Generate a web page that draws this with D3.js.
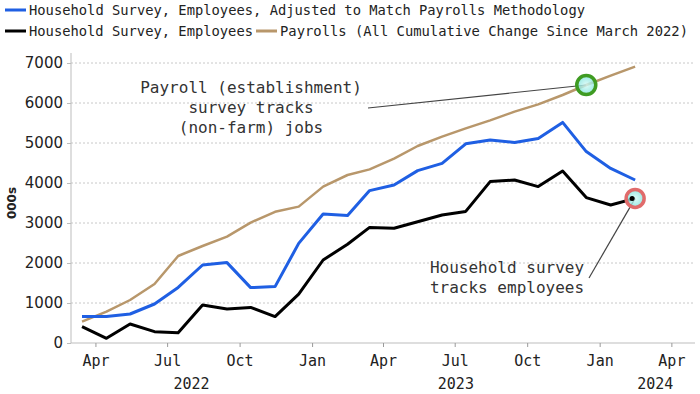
<!DOCTYPE html>
<html>
<head>
<meta charset="utf-8">
<script src="https://cdn.jsdelivr.net/npm/d3@7"></script>
<style>
  body { margin: 0; background: #fff; }
  svg { display: block; }
</style>
</head>
<body>
<script>
// monthly points, Mar 2022 .. Feb 2024 (000s, cumulative change)
const months = d3.range(24).map((i) => new Date(2022, 2 + i, 15));
const householdAdj = [660, 660, 725, 975, 1390, 1950, 2010, 1385, 1410, 2490, 3225, 3185,
  3810, 3950, 4310, 4490, 4980, 5075, 5015, 5115, 5515, 4785, 4365, 4075];
const household = [410, 117, 475, 283, 258, 950, 850, 890, 660, 1220, 2075, 2470,
  2890, 2870, 3030, 3200, 3290, 4035, 4075, 3910, 4300, 3635, 3450, 3615];
const payrolls = [535, 785, 1075, 1475, 2175, 2425, 2660, 3010, 3280, 3410, 3910, 4200,
  4340, 4610, 4925, 5160, 5365, 5565, 5785, 5965, 6200, 6450, 6685, 6910];
const yTicks = [0, 1000, 2000, 3000, 4000, 5000, 6000, 7000];
const monthLabels = ['Jan', 'Apr', 'Jul', 'Oct'];
const years = [2022, 2023, 2024];

const series = [
  { key: 'adj', name: 'Household Survey, Employees, Adjusted to Match Payrolls Methodology', values: householdAdj, color: '#1f5fe3', width: 3 },
  { key: 'hh', name: 'Household Survey, Employees', values: household, color: '#000000', width: 3 },
  { key: 'pay', name: 'Payrolls (All Cumulative Change Since March 2022)', values: payrolls, color: '#b8976b', width: 2.5 },
];

const width = 700;
const height = 394;
const plot = { left: 71, right: 695, top: 63, bottom: 343 };
const mono = "'DejaVu Sans Mono', 'Liberation Mono', monospace";

const x = d3.scaleTime()
  .domain([new Date(2022, 2, 1), new Date(2024, 4, 1)])
  .range([plot.left, plot.right]);
const y = d3.scaleLinear().domain([0, 7000]).range([plot.bottom, plot.top]);

const svg = d3.select('body').append('svg')
  .attr('width', width)
  .attr('height', height)
  .attr('viewBox', '0 0 ' + width + ' ' + height);

// grid
svg.append('g')
  .selectAll('line')
  .data(yTicks.filter((d) => d > 0))
  .join('line')
  .attr('x1', plot.left)
  .attr('x2', plot.right)
  .attr('y1', (d) => y(d))
  .attr('y2', (d) => y(d))
  .attr('stroke', '#c8c8c8')
  .attr('stroke-width', 1)
  .attr('stroke-dasharray', '2,2');

// y axis
const yAxis = svg.append('g')
  .attr('transform', 'translate(' + plot.left + ',0)')
  .call(d3.axisLeft(y).tickValues(yTicks).tickSize(4).tickPadding(4).tickFormat(d3.format('d')));
yAxis.select('.domain').attr('stroke', '#bdbdbd').attr('d', 'M0,' + (plot.top - 10) + 'V' + plot.bottom);
yAxis.selectAll('.tick line').attr('stroke', '#bdbdbd');
yAxis.selectAll('text')
  .attr('fill', '#222')
  .style('font-family', "'DejaVu Sans', sans-serif")
  .style('font-size', '15px');

svg.append('text')
  .attr('transform', 'translate(16,' + (plot.top + plot.bottom) / 2 + ') rotate(-90)')
  .attr('text-anchor', 'middle')
  .attr('fill', '#222')
  .style('font-family', "'DejaVu Sans', sans-serif")
  .style('font-size', '12px')
  .style('font-weight', 'bold')
  .text('000s');

// x axis
const quarterTicks = d3.timeMonth.every(3).range(new Date(2022, 3, 1), new Date(2024, 4, 2));
const xAxis = svg.append('g')
  .attr('transform', 'translate(0,' + plot.bottom + ')')
  .call(d3.axisBottom(x).tickValues(quarterTicks).tickSize(4).tickPadding(5)
    .tickFormat((d) => monthLabels[d.getMonth() / 3]));
xAxis.select('.domain').attr('stroke', '#bdbdbd').attr('d', 'M' + plot.left + ',0H' + plot.right);
xAxis.selectAll('.tick line').attr('stroke', '#9a9a9a');
xAxis.selectAll('text')
  .attr('fill', '#222')
  .attr('dy', '0.9em')
  .style('font-family', mono)
  .style('font-size', '15px');

svg.append('g')
  .selectAll('text')
  .data(years)
  .join('text')
  .attr('x', (d) => {
    const a = Math.max(x(new Date(d, 0, 1)), plot.left);
    const b = Math.min(x(new Date(d + 1, 0, 1)), plot.right);
    return (a + b) / 2 + (d === 2024 ? 8 : 0);
  })
  .attr('y', 389)
  .attr('text-anchor', 'middle')
  .attr('fill', '#222')
  .style('font-family', mono)
  .style('font-size', '15px')
  .text((d) => d);

// lines
const line = d3.line().x((d, i) => x(months[i])).y((d) => y(d));
svg.append('g')
  .selectAll('path')
  .data(series.slice().reverse())
  .join('path')
  .attr('fill', 'none')
  .attr('stroke', (d) => d.color)
  .attr('stroke-width', (d) => d.width)
  .attr('stroke-linejoin', 'round')
  .attr('d', (d) => line(d.values));

// legend
const legend = [
  { s: series[0], x: 5, y: 10, len: 556 },
  { s: series[1], x: 5, y: 31, len: 224 },
  { s: series[2], x: 256, y: 31, len: 408 },
];
const lg = svg.append('g').selectAll('g').data(legend).join('g')
  .attr('transform', (d) => 'translate(' + d.x + ',' + d.y + ')');
lg.append('line')
  .attr('x1', 0).attr('x2', 21)
  .attr('stroke', (d) => d.s.color)
  .attr('stroke-width', 3);
lg.append('text')
  .attr('x', 24)
  .attr('y', 5)
  .attr('fill', '#222')
  .attr('textLength', (d) => d.len)
  .attr('lengthAdjust', 'spacingAndGlyphs')
  .style('font-family', mono)
  .style('font-size', '14px')
  .text((d) => d.s.name);

// annotations
const greenPt = { x: x(months[21]), y: y(payrolls[21]) };
const redPt = { x: x(months[23]), y: y(household[23]) };

svg.append('line')
  .attr('x1', 368).attr('y1', 108)
  .attr('x2', greenPt.x).attr('y2', greenPt.y)
  .attr('stroke', '#444').attr('stroke-width', 1.2);
svg.append('line')
  .attr('x1', 589).attr('y1', 278)
  .attr('x2', redPt.x).attr('y2', redPt.y)
  .attr('stroke', '#444').attr('stroke-width', 1.2);

const glow = svg.append('defs').append('radialGradient').attr('id', 'glow');
glow.append('stop').attr('offset', '0%').attr('stop-color', '#d8fbf6');
glow.append('stop').attr('offset', '100%').attr('stop-color', '#7fe3dc');

svg.append('circle')
  .attr('cx', greenPt.x).attr('cy', greenPt.y).attr('r', 9.5)
  .attr('fill', 'url(#glow)').attr('fill-opacity', 0.8)
  .attr('stroke', '#3f9b22').attr('stroke-width', 3.5);
svg.append('circle')
  .attr('cx', redPt.x).attr('cy', redPt.y).attr('r', 9)
  .attr('fill', 'url(#glow)').attr('fill-opacity', 0.8)
  .attr('stroke', '#e06b6b').attr('stroke-width', 3.5);
svg.append('circle')
  .attr('cx', redPt.x - 3).attr('cy', redPt.y).attr('r', 2.5)
  .attr('fill', '#000');

const note = (lines, cx, y0) => {
  svg.append('text')
    .attr('text-anchor', 'middle')
    .attr('fill', '#333')
    .style('font-family', mono)
    .style('font-size', '16px')
    .selectAll('tspan')
    .data(lines)
    .join('tspan')
    .attr('x', cx)
    .attr('y', (d, i) => y0 + i * 20)
    .text((d) => d);
};
note(['Payroll (establishment)', 'survey tracks', '(non-farm) jobs'], 251, 93);
note(['Household survey', 'tracks employees'], 507, 273);
</script>
</body>
</html>
